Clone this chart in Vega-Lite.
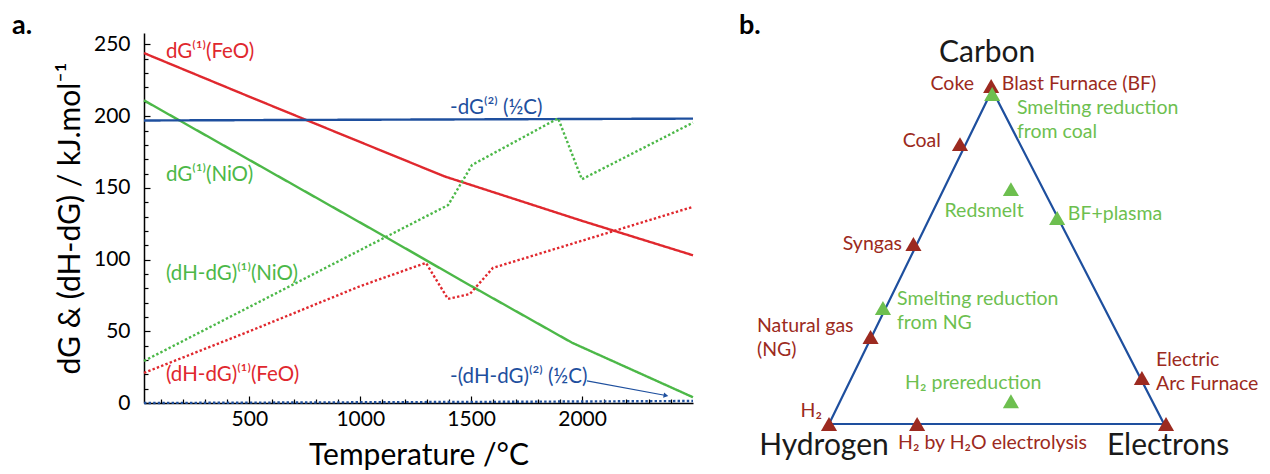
{
  "$schema": "https://vega.github.io/schema/vega-lite/v6.json",
  "padding": {"left": 12, "top": 12, "right": 0, "bottom": 0},
  "config": {
    "font": "Lato",
    "view": {"stroke": null},
    "axis": {"labelColor": "black", "titleColor": "black", "domainColor": "black", "tickColor": "black", "grid": false}
  },
  "spacing": 41,
  "resolve": {"scale": {"color": "independent", "x": "independent", "y": "independent"}},
  "datasets": {
    "curves": [
      {"series": "dG(1)(FeO)", "style": "solid", "T": 25, "v": 244},
      {"series": "dG(1)(FeO)", "style": "solid", "T": 500, "v": 213.6},
      {"series": "dG(1)(FeO)", "style": "solid", "T": 909, "v": 187.7},
      {"series": "dG(1)(FeO)", "style": "solid", "T": 1380, "v": 158},
      {"series": "dG(1)(FeO)", "style": "solid", "T": 2000, "v": 127},
      {"series": "dG(1)(FeO)", "style": "solid", "T": 2500, "v": 103},
      {"series": "dG(1)(NiO)", "style": "solid", "T": 25, "v": 211},
      {"series": "dG(1)(NiO)", "style": "solid", "T": 1089, "v": 118},
      {"series": "dG(1)(NiO)", "style": "solid", "T": 1455, "v": 85.5},
      {"series": "dG(1)(NiO)", "style": "solid", "T": 1955, "v": 42},
      {"series": "dG(1)(NiO)", "style": "solid", "T": 2500, "v": 4},
      {"series": "-dG(2)(1/2C)", "style": "solid", "T": 25, "v": 197},
      {"series": "-dG(2)(1/2C)", "style": "solid", "T": 2500, "v": 198.3},
      {"series": "(dH-dG)(1)(NiO)", "style": "dotted", "T": 25, "v": 29.3},
      {"series": "(dH-dG)(1)(NiO)", "style": "dotted", "T": 1089, "v": 113.7},
      {"series": "(dH-dG)(1)(NiO)", "style": "dotted", "T": 1396, "v": 138},
      {"series": "(dH-dG)(1)(NiO)", "style": "dotted", "T": 1504, "v": 166},
      {"series": "(dH-dG)(1)(NiO)", "style": "dotted", "T": 1892, "v": 198.5},
      {"series": "(dH-dG)(1)(NiO)", "style": "dotted", "T": 1999, "v": 156},
      {"series": "(dH-dG)(1)(NiO)", "style": "dotted", "T": 2500, "v": 195.5},
      {"series": "(dH-dG)(1)(FeO)", "style": "dotted", "T": 25, "v": 21},
      {"series": "(dH-dG)(1)(FeO)", "style": "dotted", "T": 500, "v": 50},
      {"series": "(dH-dG)(1)(FeO)", "style": "dotted", "T": 1000, "v": 81.5},
      {"series": "(dH-dG)(1)(FeO)", "style": "dotted", "T": 1296, "v": 97.7},
      {"series": "(dH-dG)(1)(FeO)", "style": "dotted", "T": 1395, "v": 72.6},
      {"series": "(dH-dG)(1)(FeO)", "style": "dotted", "T": 1494, "v": 76},
      {"series": "(dH-dG)(1)(FeO)", "style": "dotted", "T": 1598, "v": 94.2},
      {"series": "(dH-dG)(1)(FeO)", "style": "dotted", "T": 2500, "v": 136.8},
      {"series": "-(dH-dG)(2)(1/2C)", "style": "dotted", "T": 25, "v": 0},
      {"series": "-(dH-dG)(2)(1/2C)", "style": "dotted", "T": 1600, "v": 0.8},
      {"series": "-(dH-dG)(2)(1/2C)", "style": "dotted", "T": 2500, "v": 1.4}
    ],
    "curveLabels": [
      {"series": "dG(1)(FeO)", "label": "dG⁽¹⁾(FeO)", "T": 124, "v": 245},
      {"series": "dG(1)(NiO)", "label": "dG⁽¹⁾(NiO)", "T": 124, "v": 159},
      {"series": "(dH-dG)(1)(NiO)", "label": "(dH-dG)⁽¹⁾(NiO)", "T": 124, "v": 90},
      {"series": "(dH-dG)(1)(FeO)", "label": "(dH-dG)⁽¹⁾(FeO)", "T": 124, "v": 19.5},
      {"series": "-dG(2)(1/2C)", "label": "-dG⁽²⁾ (½C)", "T": 1405, "v": 206},
      {"series": "-(dH-dG)(2)(1/2C)", "label": "-(dH-dG)⁽²⁾ (½C)", "T": 1405, "v": 18}
    ],
    "arrow": [{"T": 2022, "v": 15.4, "T2": 2378, "v2": 5.2}],
    "arrowHead": [{"T": 2378, "v": 5.2}],
    "triangle": [
      {"i": 0, "u": 0, "v": 0},
      {"i": 1, "u": 0.487, "v": 0.994},
      {"i": 2, "u": 1, "v": 0},
      {"i": 3, "u": 0, "v": 0}
    ],
    "routes": [
      {"name": "Blast Furnace / Coke", "kind": "source", "u": 0.484, "v": 1.006},
      {"name": "Coal", "kind": "source", "u": 0.391, "v": 0.833},
      {"name": "Syngas", "kind": "source", "u": 0.252, "v": 0.536},
      {"name": "Natural gas", "kind": "source", "u": 0.124, "v": 0.259},
      {"name": "H2", "kind": "source", "u": 0, "v": 0},
      {"name": "H2 by H2O electrolysis", "kind": "source", "u": 0.263, "v": 0},
      {"name": "Electrons", "kind": "source", "u": 1.006, "v": 0},
      {"name": "Electric Arc Furnace", "kind": "source", "u": 0.934, "v": 0.137},
      {"name": "Smelting reduction from coal", "kind": "process", "u": 0.487, "v": 0.982},
      {"name": "Redsmelt", "kind": "process", "u": 0.543, "v": 0.699},
      {"name": "BF+plasma", "kind": "process", "u": 0.681, "v": 0.613},
      {"name": "Smelting reduction from NG", "kind": "process", "u": 0.161, "v": 0.345},
      {"name": "H2 prereduction", "kind": "process", "u": 0.543, "v": 0.068}
    ],
    "labelsLeft": [
      {"text": "Blast Furnace (BF)", "kind": "source", "u": 0.516, "v": 1.012},
      {"text": "Smelting reduction\nfrom coal", "kind": "process", "u": 0.561, "v": 0.940},
      {"text": "BF+plasma", "kind": "process", "u": 0.713, "v": 0.625},
      {"text": "Smelting reduction\nfrom NG", "kind": "process", "u": 0.203, "v": 0.372},
      {"text": "Natural gas\n(NG)", "kind": "source", "u": -0.215, "v": 0.292},
      {"text": "Electric\nArc Furnace", "kind": "source", "u": 0.976, "v": 0.190},
      {"text": "H₂ prereduction", "kind": "process", "u": 0.227, "v": 0.122},
      {"text": "H₂ by H₂O electrolysis", "kind": "source", "u": 0.206, "v": -0.057}
    ],
    "labelsRight": [
      {"text": "Coke", "kind": "source", "u": 0.433, "v": 1.012},
      {"text": "Coal", "kind": "source", "u": 0.334, "v": 0.842},
      {"text": "Syngas", "kind": "source", "u": 0.218, "v": 0.536},
      {"text": "H₂", "kind": "source", "u": -0.021, "v": 0.039}
    ],
    "labelsCenter": [
      {"text": "Redsmelt", "kind": "process", "u": 0.463, "v": 0.634}
    ],
    "vertices": [
      {"text": "Carbon", "u": 0.472, "v": 1.104},
      {"text": "Hydrogen", "u": -0.015, "v": -0.065},
      {"text": "Electrons", "u": 1.012, "v": -0.065}
    ]
  },
  "hconcat": [
    {
      "width": 549,
      "height": 370,
      "title": {"text": "a.", "anchor": "start", "frame": "group", "dx": -132, "fontSize": 27, "fontWeight": "bold", "baseline": "alphabetic", "offset": -28, "color": "black"},
      "encoding": {
        "x": {"field": "T", "type": "quantitative",
          "scale": {"domain": [25, 2500], "nice": false, "zero": false},
          "axis": {"title": "Temperature /°C", "format": "d",
            "values": [100,200,300,400,500,600,700,800,900,1000,1100,1200,1300,1400,1500,1600,1700,1800,1900,2000,2100,2200,2300,2400],
            "labelExpr": "datum.value % 500 === 0 ? datum.label : ''",
            "tickSize": {"condition": {"test": "datum.value % 500 === 0", "value": -7}, "value": -4},
            "labelPadding": 12, "labelOverlap": false, "labelFlush": false,
            "labelFontSize": 21, "titleFontSize": 30, "titleFontWeight": "normal", "titlePadding": 8,
            "domainWidth": 1.5, "tickWidth": 1.2}},
        "y": {"field": "v", "type": "quantitative",
          "scale": {"domain": [0, 258], "nice": false},
          "axis": {"title": "dG & (dH-dG) / kJ.mol⁻¹", "format": "d",
            "values": [0,10,20,30,40,50,60,70,80,90,100,110,120,130,140,150,160,170,180,190,200,210,220,230,240,250],
            "labelExpr": "datum.value % 50 === 0 ? datum.label : ''",
            "tickSize": {"condition": {"test": "datum.value % 50 === 0", "value": -6}, "value": -4},
            "labelPadding": 20, "labelOverlap": false, "labelFlush": false,
            "labelFontSize": 21, "titleFontSize": 30, "titleFontWeight": "normal", "titlePadding": 8,
            "domainWidth": 1.5, "tickWidth": 1.2}}
      },
      "layer": [
        {
          "data": {"name": "curves"},
          "mark": {"type": "line", "strokeWidth": 2.4},
          "encoding": {
            "color": {"field": "series", "type": "nominal", "legend": null,
              "scale": {"domain": ["dG(1)(FeO)", "dG(1)(NiO)", "-dG(2)(1/2C)", "(dH-dG)(1)(NiO)", "(dH-dG)(1)(FeO)", "-(dH-dG)(2)(1/2C)"],
                "range": ["#e0282e", "#4cb848", "#1e4f9e", "#4cb848", "#e0282e", "#1e4f9e"]}},
            "strokeDash": {"field": "style", "type": "nominal", "legend": null,
              "scale": {"domain": ["solid", "dotted"], "range": [[1, 0], [2.4, 2.2]]}}
          }
        },
        {
          "data": {"name": "curveLabels"},
          "mark": {"type": "text", "align": "left", "baseline": "middle", "fontSize": 20.5},
          "encoding": {
            "text": {"field": "label", "type": "nominal"},
            "color": {"field": "series", "type": "nominal", "legend": null}
          }
        },
        {
          "data": {"name": "arrow"},
          "mark": {"type": "rule", "color": "#1e4f9e", "strokeWidth": 1.1},
          "encoding": {
            "x2": {"field": "T2"},
            "y2": {"field": "v2"}
          }
        },
        {
          "data": {"name": "arrowHead"},
          "mark": {"type": "point", "shape": "triangle-right", "filled": true, "color": "#1e4f9e", "size": 30, "angle": 10.6, "opacity": 1},
          "encoding": {}
        }
      ]
    },
    {
      "width": 530,
      "height": 430,
      "title": {"text": "b.", "anchor": "start", "frame": "group", "dx": 0, "fontSize": 27, "fontWeight": "bold", "baseline": "alphabetic", "offset": -28, "color": "black"},
      "encoding": {
        "x": {"field": "u", "type": "quantitative", "axis": null, "scale": {"domain": [-0.2687, 1.3134], "nice": false, "zero": false}},
        "y": {"field": "v", "type": "quantitative", "axis": null, "scale": {"domain": [-0.1161, 1.1637], "nice": false, "zero": false}}
      },
      "layer": [
        {
          "data": {"name": "triangle"},
          "mark": {"type": "line", "color": "#1e4f9e", "strokeWidth": 2.2},
          "encoding": {"order": {"field": "i", "type": "quantitative"}}
        },
        {
          "data": {"name": "routes"},
          "mark": {"type": "point", "shape": "triangle-up", "filled": true, "size": 260, "opacity": 1},
          "encoding": {
            "color": {"field": "kind", "type": "nominal", "legend": null,
              "scale": {"domain": ["source", "process"], "range": ["#9c2a20", "#6dbf4f"]}}
          }
        },
        {
          "data": {"name": "labelsLeft"},
          "mark": {"type": "text", "align": "left", "baseline": "middle", "fontSize": 19.5, "lineBreak": "\n", "lineHeight": 24},
          "encoding": {"text": {"field": "text", "type": "nominal"}, "color": {"field": "kind", "type": "nominal", "legend": null}}
        },
        {
          "data": {"name": "labelsRight"},
          "mark": {"type": "text", "align": "right", "baseline": "middle", "fontSize": 19.5},
          "encoding": {"text": {"field": "text", "type": "nominal"}, "color": {"field": "kind", "type": "nominal", "legend": null}}
        },
        {
          "data": {"name": "labelsCenter"},
          "mark": {"type": "text", "align": "center", "baseline": "middle", "fontSize": 19.5},
          "encoding": {"text": {"field": "text", "type": "nominal"}, "color": {"field": "kind", "type": "nominal", "legend": null}}
        },
        {
          "data": {"name": "vertices"},
          "mark": {"type": "text", "align": "center", "baseline": "middle", "fontSize": 30, "color": "#1a1a1a"},
          "encoding": {"text": {"field": "text", "type": "nominal"}}
        }
      ]
    }
  ]
}
